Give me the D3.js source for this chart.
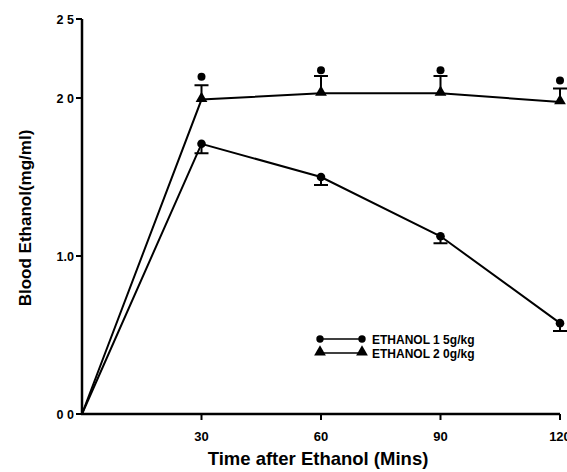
<!DOCTYPE html>
<html>
<head>
<meta charset="utf-8">
<script src="https://cdn.jsdelivr.net/npm/d3@7"></script>
<style>
  body { margin: 0; background: #fff; }
  text { font-family: "Liberation Sans", Arial, sans-serif; font-weight: bold; fill: #000; }
</style>
</head>
<body>
<script>
const times = [0, 30, 60, 90, 120]
const eth15 = [0, 1.71, 1.50, 1.125, 0.575]
const eth15Err = [0, 0.06, 0.05, 0.045, 0.05]
const eth20 = [0, 1.99, 2.03, 2.03, 1.975]
const eth20Err = [0, 0.09, 0.11, 0.11, 0.085]
const sigTimes = [30, 60, 90, 120]
const sigMarks = [2.135, 2.175, 2.175, 2.11]
const xTicks = [30, 60, 90, 120]
const yTicks = [0, 1, 2, 2.5]
const yTickLabels = ["0 0", "1.0", "2 0", "2 5"]
const legendLabels = ["ETHANOL 1 5g/kg", "ETHANOL 2 0g/kg"]

const width = 567
const height = 472

const x = d3.scaleLinear().domain([0, 120]).range([82, 560])
const y = d3.scaleLinear().domain([0, 2.5]).range([414, 19])

const svg = d3.select("body").append("svg")
    .attr("width", width)
    .attr("height", height)

// axes
svg.append("line").attr("x1", x(0)).attr("x2", x(0)).attr("y1", y(2.5)).attr("y2", y(0))
    .attr("stroke", "#000").attr("stroke-width", 2.5)
svg.append("line").attr("x1", x(0) - 1).attr("x2", x(120)).attr("y1", y(0)).attr("y2", y(0))
    .attr("stroke", "#000").attr("stroke-width", 2.5)

svg.selectAll(".ytick").data(yTicks).enter().append("line")
    .attr("x1", x(0) - 6).attr("x2", x(0))
    .attr("y1", d => y(d)).attr("y2", d => y(d))
    .attr("stroke", "#000").attr("stroke-width", 2)
svg.selectAll(".ylab").data(yTicks).enter().append("text")
    .attr("x", x(0) - 8).attr("y", d => y(d) + 4.5)
    .attr("text-anchor", "end").style("font-size", "12.5px")
    .text((d, i) => yTickLabels[i])

svg.selectAll(".xtick").data(xTicks).enter().append("line")
    .attr("x1", d => x(d)).attr("x2", d => x(d))
    .attr("y1", y(0)).attr("y2", y(0) + 6)
    .attr("stroke", "#000").attr("stroke-width", 2)
svg.selectAll(".xlab").data(xTicks).enter().append("text")
    .attr("x", d => x(d)).attr("y", 441)
    .attr("text-anchor", "middle").style("font-size", "13px")
    .text(d => d)

svg.append("text").attr("x", 318).attr("y", 465).attr("text-anchor", "middle")
    .style("font-size", "18.5px").text("Time after Ethanol (Mins)")
svg.append("text").attr("transform", "translate(31,218) rotate(-90)").attr("text-anchor", "middle")
    .style("font-size", "17px").text("Blood Ethanol(mg/ml)")

const line = d3.line().x((d, i) => x(times[i])).y(d => y(d))

svg.append("path").datum(eth20).attr("d", line)
    .attr("fill", "none").attr("stroke", "#000").attr("stroke-width", 2)
svg.append("path").datum(eth15).attr("d", line)
    .attr("fill", "none").attr("stroke", "#000").attr("stroke-width", 2)

// error bars: 2.0 g/kg upward, 1.5 g/kg downward
const idx = [1, 2, 3, 4]
svg.selectAll(".err20").data(idx).enter().append("path")
    .attr("d", i => `M${x(times[i])},${y(eth20[i])}V${y(eth20[i] + eth20Err[i])}M${x(times[i]) - 7},${y(eth20[i] + eth20Err[i])}h14`)
    .attr("stroke", "#000").attr("stroke-width", 2).attr("fill", "none")
svg.selectAll(".err15").data(idx).enter().append("path")
    .attr("d", i => `M${x(times[i])},${y(eth15[i])}V${y(eth15[i] - eth15Err[i])}M${x(times[i]) - 7},${y(eth15[i] - eth15Err[i])}h14`)
    .attr("stroke", "#000").attr("stroke-width", 2).attr("fill", "none")

const tri = d3.symbol().type(d3.symbolTriangle).size(60)
svg.selectAll(".tri").data(idx).enter().append("path")
    .attr("d", tri)
    .attr("transform", i => `translate(${x(times[i])},${y(eth20[i]) - 1})`)
svg.selectAll(".dot").data(idx).enter().append("circle")
    .attr("cx", i => x(times[i])).attr("cy", i => y(eth15[i])).attr("r", 4.3)
svg.selectAll(".sig").data(sigMarks).enter().append("circle")
    .attr("cx", (d, i) => x(sigTimes[i])).attr("cy", d => y(d)).attr("r", 4)

// legend
const leg = svg.append("g")
legendLabels.forEach((lab, i) => {
    const ly = 339 + i * 14
    leg.append("line").attr("x1", 320).attr("x2", 362).attr("y1", ly).attr("y2", ly)
        .attr("stroke", "#000").attr("stroke-width", 1.5)
    if (i === 0) {
        leg.append("circle").attr("cx", 320).attr("cy", ly).attr("r", 3.7)
        leg.append("circle").attr("cx", 362).attr("cy", ly).attr("r", 3.7)
    } else {
        leg.append("path").attr("d", tri).attr("transform", `translate(320,${ly - 1})`)
        leg.append("path").attr("d", tri).attr("transform", `translate(362,${ly - 1})`)
    }
    leg.append("text").attr("x", 372).attr("y", ly + 4.5).style("font-size", "12px").text(lab)
})
</script>
</body>
</html>
